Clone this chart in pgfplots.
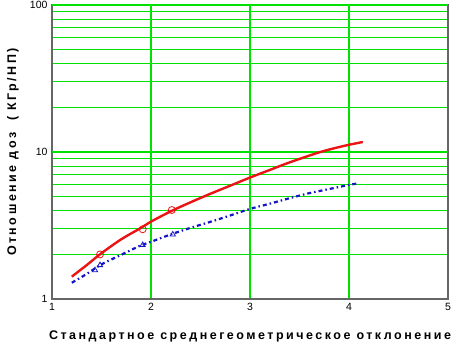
\documentclass[border=0pt]{standalone}
\usepackage{fontspec}
\setmainfont{Liberation Sans}
\newfontfamily\lblfont[LetterSpace=20]{Liberation Sans}
\usepackage{pgfplots}
\pgfplotsset{compat=1.18}
\definecolor{gridgreen}{RGB}{0,225,0}
\definecolor{redc}{RGB}{235,20,20}
\definecolor{bluec}{RGB}{20,20,200}
\begin{document}
\begin{tikzpicture}[x=1pt,y=1pt]
\path[use as bounding box] (0,0) rectangle (460,343);
\begin{axis}[
  at={(52pt,44pt)}, anchor=south west,
  scale only axis, width=396pt, height=294pt,
  xmode=normal, ymode=log,
  xmin=1, xmax=5, ymin=1, ymax=100,
  xtick={1,2,3,4,5},
  ytick={1,10,100},
  yticklabels={1,10,100},
  minor ytick={2,3,4,5,6,7,8,9,20,30,40,50,60,70,80,90},
  grid=both,
  major grid style={gridgreen, line width=1.1pt},
  minor grid style={gridgreen, line width=1.1pt},
  extra y ticks={10,100},
  extra y tick labels={},
  extra y tick style={grid style={black, line width=1.2pt}},
  axis line style={gray!80!black, line width=1.5pt},
  major tick length=0pt, minor tick length=0pt,
  tick label style={font=\fontsize{10.5}{12}\selectfont},
  /pgf/number format/assume math mode=true,
  log ticks with fixed point,
  xticklabel style={yshift=-1pt},
  yticklabel style={xshift=-1pt},
  xlabel={\lblfont\bfseries\fontsize{12.5}{14}\selectfont Стандартное среднегеометрическое отклонение},
  ylabel={\lblfont\bfseries\fontsize{12.5}{14}\selectfont Отношение доз \ ( КГр/НП)},
  xlabel style={at={(axis description cs:0.5,0)}, anchor=center, yshift=-37pt},
  ylabel style={at={(axis description cs:0,0.5)}, anchor=center, rotate=0, yshift=39pt},
  clip=false,
]
\addplot[redc, line width=2.4pt, no marks, smooth] coordinates {
 (1.20,1.42) (1.35,1.70) (1.50,2.05) (1.70,2.55) (1.90,3.05) (2.00,3.36)
 (2.20,3.95) (2.40,4.55) (2.60,5.20) (2.80,5.90) (3.00,6.70) (3.20,7.55)
 (3.40,8.50) (3.69,9.90) (3.85,10.60) (4.00,11.20) (4.14,11.70)
};
\addplot[bluec, line width=2.2pt, dash pattern=on 4pt off 3pt on 1.5pt off 3pt, no marks, smooth] coordinates {
 (1.20,1.29) (1.35,1.48) (1.50,1.72) (1.70,2.00) (1.90,2.32) (2.00,2.45)
 (2.20,2.75) (2.40,3.05) (2.60,3.35) (2.80,3.70) (3.00,4.10) (3.20,4.45)
 (3.40,4.85) (3.60,5.25) (3.80,5.60) (4.00,5.97) (4.09,6.12)
};
\addplot[only marks, mark=o, mark size=3.5pt, redc, mark options={line width=0.8pt}] coordinates {
 (1.485,2.01) (1.916,2.98) (2.21,4.03)
};
\addplot[only marks, mark=triangle, mark size=3pt, bluec, mark options={line width=0.8pt}] coordinates {
 (1.434,1.57) (1.485,1.70) (1.916,2.33) (2.22,2.75)
};
\end{axis}
\end{tikzpicture}
\end{document}
